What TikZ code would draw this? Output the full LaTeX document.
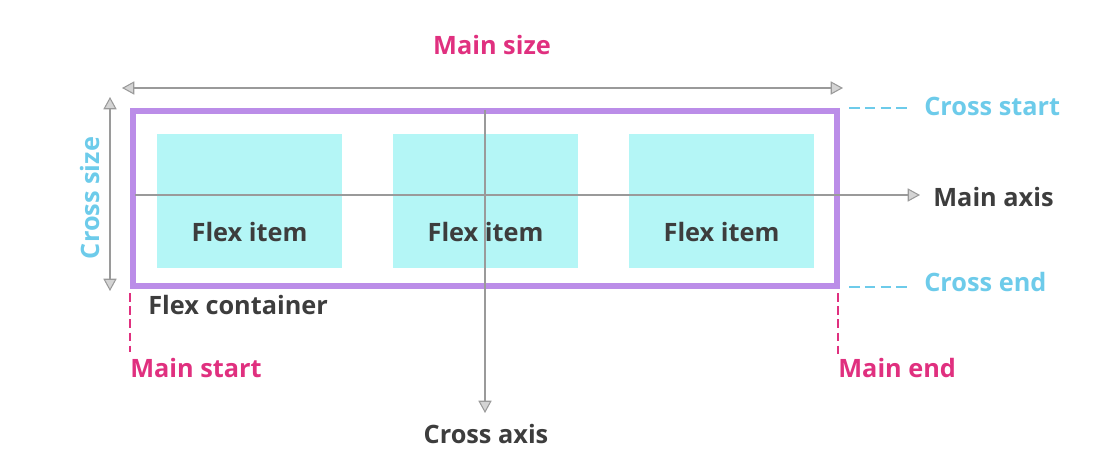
\documentclass[tikz,border=0pt]{standalone}
\usepackage{fontspec}
\setmainfont{Open Sans}
\usetikzlibrary{arrows.meta}
\definecolor{pinkc}{HTML}{E0307F}
\definecolor{bluec}{HTML}{6DCBEA}
\definecolor{purplec}{HTML}{BB8DE8}
\definecolor{cyanc}{HTML}{B4F6F6}
\definecolor{darkc}{HTML}{3D3D3D}
\definecolor{grayc}{HTML}{9A9A9A}
\definecolor{tipc}{HTML}{D4D4D4}
\tikzset{
  lbl/.style={font=\fontsize{14.4}{16}\selectfont\bfseries, inner sep=0pt},
  axisline/.style={draw=grayc, line width=1.5pt},
  tiphead/.tip={Triangle[length=7pt,width=7.5pt,fill=tipc,color=grayc,line width=0.6pt]},
  axtip/.style={-tiphead},
  bothtip/.style={tiphead-tiphead},
  itembox/.style={fill=cyanc, draw=none, minimum width=185*0.02cm, minimum height=134*0.02cm, inner sep=0pt},
  dashb/.style={draw=bluec, line width=1.2pt, dash pattern=on 6pt off 3pt},
  dashp/.style={draw=pinkc, line width=1.2pt, dash pattern=on 5pt off 2.5pt},
}
\begin{document}
\begin{tikzpicture}[x=0.02cm,y=-0.02cm]
\useasboundingbox (0,0) rectangle (1108,470);
% flex items
\node[itembox] (i1) at (249.5,201) {};
\node[itembox] (i2) at (485.5,201) {};
\node[itembox] (i3) at (721.5,201) {};
\node[lbl, text=darkc] (t1) at (249.5,232) {Flex item};
\node[lbl, text=darkc] (t2) at (485.5,232) {Flex item};
\node[lbl, text=darkc] (t3) at (721.5,232) {Flex item};
% container
\node[draw=purplec, line width=3.4pt, minimum width=704*0.02cm, minimum height=175*0.02cm, inner sep=0pt] (box) at (485,198.5) {};
% axes
\coordinate (ma0) at (135,195);
\coordinate (ma1) at (920,195);
\draw[axisline, axtip] (ma0) -- (ma1);
\node[lbl, text=darkc, anchor=west] (mat) at (933,197) {Main axis};
\coordinate (ca0) at (485,110);
\coordinate (ca1) at (485,413);
\draw[axisline, axtip] (ca0) -- (ca1);
\node[lbl, text=darkc] (cat) at (486,434) {Cross axis};
% main size
\coordinate (ms0) at (122,88);
\coordinate (ms1) at (843,88);
\draw[axisline, bothtip] (ms0) -- (ms1);
\node[lbl, text=pinkc] (mst) at (492,45) {Main size};
% cross size
\coordinate (cs0) at (110,97);
\coordinate (cs1) at (110,291);
\draw[axisline, bothtip] (cs0) -- (cs1);
\node[lbl, text=bluec, rotate=90] (cst) at (90,198) {Cross size};
% cross start / end
\coordinate (cs2) at (849,108);
\coordinate (cs3) at (907,108);
\draw[dashb] (cs2) -- (cs3);
\node[lbl, text=bluec, anchor=west] (cstart) at (924,106) {Cross start};
\coordinate (ce0) at (849,287);
\coordinate (ce1) at (907,287);
\draw[dashb] (ce0) -- (ce1);
\node[lbl, text=bluec, anchor=west] (cend) at (924,282) {Cross end};
% flex container label
\node[lbl, text=darkc, anchor=west] (fc) at (148,305) {Flex container};
% main start / end
\coordinate (mss0) at (130,293);
\coordinate (mss1) at (130,352);
\draw[dashp] (mss0) -- (mss1);
\node[lbl, text=pinkc, anchor=west] (mstart) at (130,368) {Main start};
\coordinate (me0) at (838,293);
\coordinate (me1) at (838,355);
\draw[dashp] (me0) -- (me1);
\node[lbl, text=pinkc, anchor=west] (mend) at (838,368) {Main end};
\end{tikzpicture}
\end{document}
